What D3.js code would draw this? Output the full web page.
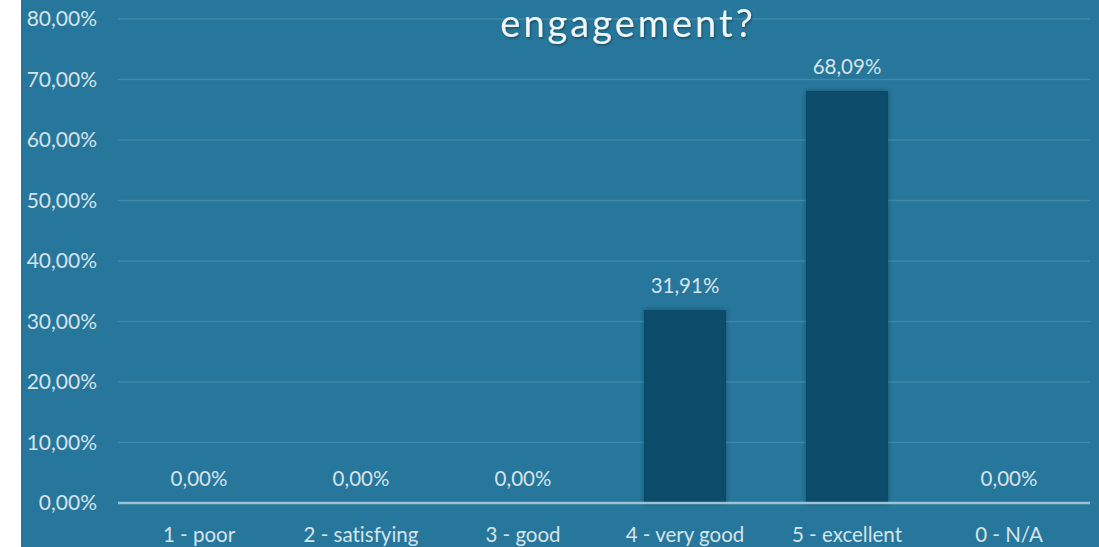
<!DOCTYPE html>
<html>
<head>
<meta charset="utf-8">
<script src="https://d3js.org/d3.v7.min.js"></script>
<style>
  body { margin: 0; background: #fff; }
  svg { display: block; }
  text { font-variant-ligatures: none; }
</style>
</head>
<body>
<svg id="chart"></svg>
<script>
// data
var categories = ["1 - poor", "2 - satisfying", "3 - good", "4 - very good", "5 - excellent", "0 - N/A"];
var values = [0, 0, 0, 31.91, 68.09, 0];
var yTicks = [0, 10, 20, 30, 40, 50, 60, 70, 80];
var title = "engagement?";

var W = 1099, H = 547;
var svg = d3.select("#chart").attr("width", W).attr("height", H);
var font = "Lato, 'Open Sans', sans-serif";

// background panel
svg.append("rect")
    .attr("x", 21).attr("y", 0)
    .attr("width", W - 21).attr("height", H)
    .style("fill", "#26779b");

var defs = svg.append("defs");
var f = defs.append("filter").attr("id", "shadow")
    .attr("x", "-20%").attr("y", "-20%").attr("width", "140%").attr("height", "140%");
f.append("feDropShadow").attr("dx", 0).attr("dy", 0).attr("stdDeviation", 2.5)
    .attr("flood-color", "#000").attr("flood-opacity", 0.35);
var ft = defs.append("filter").attr("id", "tshadow");
ft.append("feDropShadow").attr("dx", 1).attr("dy", 1.5).attr("stdDeviation", 1.2)
    .attr("flood-color", "#000").attr("flood-opacity", 0.35);

var left = 118, right = 1090;
var x = d3.scaleBand().domain(categories).range([left, right]).padding(0);
var y = d3.scaleLinear().domain([0, 80]).range([503, 19]);
var barW = x.bandwidth() * 0.505;

function pct(d) { return d3.format(".2f")(d).replace(".", ",") + "%"; }

// gridlines
svg.selectAll(".grid")
    .data(yTicks.filter(function (d) { return d > 0; }))
    .enter().append("line")
    .attr("class", "grid")
    .attr("x1", left).attr("x2", right)
    .attr("y1", function (d) { return y(d); })
    .attr("y2", function (d) { return y(d); })
    .style("stroke", "#4089a9").style("stroke-width", 1.5);

// y labels
svg.selectAll(".ylab")
    .data(yTicks)
    .enter().append("text")
    .attr("class", "ylab")
    .attr("x", 97)
    .attr("y", function (d) { return y(d); })
    .attr("dy", "0.35em")
    .attr("text-anchor", "end")
    .style("font-family", font).style("font-size", "21px")
    .style("fill", "#d6e3ea")
    .text(pct);

// bars
svg.selectAll(".bar")
    .data(values)
    .enter().append("rect")
    .attr("class", "bar")
    .attr("x", function (d, i) { return x(categories[i]) + (x.bandwidth() - barW) / 2; })
    .attr("y", function (d) { return y(d); })
    .attr("width", barW)
    .attr("height", function (d) { return y(0) - y(d); })
    .attr("filter", "url(#shadow)")
    .style("fill", "#074b6a");

// axis line
svg.append("line")
    .attr("x1", left).attr("x2", right)
    .attr("y1", y(0)).attr("y2", y(0))
    .style("stroke", "#9dc2d3").style("stroke-width", 2.5);

// value labels
svg.selectAll(".vlab")
    .data(values)
    .enter().append("text")
    .attr("class", "vlab")
    .attr("x", function (d, i) { return x(categories[i]) + x.bandwidth() / 2; })
    .attr("y", function (d) { return y(d) - 24; })
    .attr("dy", "0.35em")
    .attr("text-anchor", "middle")
    .style("font-family", font).style("font-size", "20.5px")
    .style("fill", "#d6e3ea")
    .text(pct);

// x labels
svg.selectAll(".xlab")
    .data(categories)
    .enter().append("text")
    .attr("class", "xlab")
    .attr("x", function (d) { return x(d) + x.bandwidth() / 2; })
    .attr("y", 535)
    .attr("dy", "0.35em")
    .attr("text-anchor", "middle")
    .style("font-family", font).style("font-size", "20.5px")
    .style("fill", "#d6e3ea")
    .text(function (d) { return d; });

// title (cut off at top)
svg.append("text")
    .attr("x", 628).attr("y", 37)
    .attr("text-anchor", "middle")
    .attr("filter", "url(#tshadow)")
    .style("font-family", font).style("font-size", "38px")
    .style("letter-spacing", "3px")
    .style("fill", "#f2f6f8")
    .text(title);
</script>
</body>
</html>
